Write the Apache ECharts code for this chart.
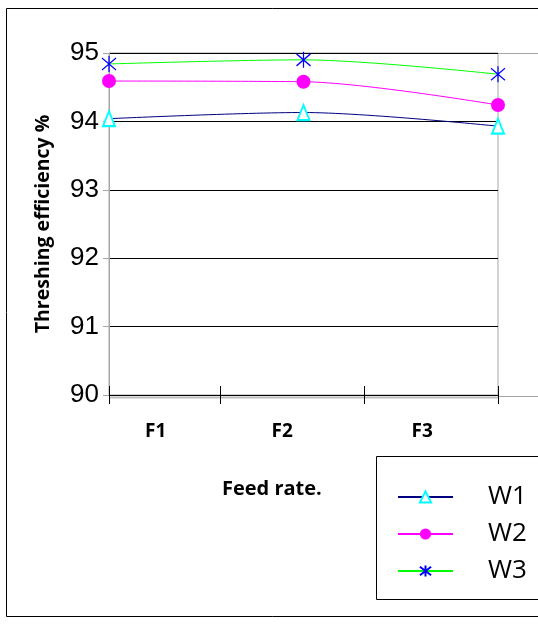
<!DOCTYPE html>
<html>
<head>
<meta charset="utf-8">
<script src="https://cdn.jsdelivr.net/npm/echarts@6/dist/echarts.min.js"></script>
<style>
  html, body { margin: 0; padding: 0; background: #fff; }
  #chart { width: 538px; height: 625px; }
</style>
</head>
<body>
<div id="chart"></div>
<script>
  // feed rate positions (F1..F3 sit on the plot edges and the middle)
  var feedPos = [0, 1, 2];
  var feedLabels = ['F1', 'F2', 'F3'];
  // where Excel put the category ticks / labels along the axis
  var tickPos = [0, 0.57, 1.31, 2];
  var labelPos = [0.24, 0.89, 1.61];

  var w1 = [94.04, 94.13, 93.93];
  var w2 = [94.59, 94.58, 94.24];
  var w3 = [94.84, 94.90, 94.69];

  var yTicks = [90, 91, 92, 93, 94, 95];

  var starX = 'path://M0,2L12,14M12,2L0,14M6,0L6,16';

  function pairs(vals) {
    return vals.map(function (v, i) { return [feedPos[i], v]; });
  }

  var chart = echarts.init(document.getElementById('chart'));

  var option = {
    animation: false,
    backgroundColor: '#fff',
    grid: {
      left: 109,
      right: 40,
      top: 53,
      bottom: 230,
      show: true,
      borderColor: '#a6a6a6',
      borderWidth: 1
    },
    graphic: [
      // outer chart frame
      { type: 'rect', shape: { x: 6.5, y: 8.5, width: 600, height: 608 },
        style: { fill: 'none', stroke: '#000', lineWidth: 1 }, z: -1 },
      // plot border running on to the right edge
      { type: 'line', shape: { x1: 498, y1: 53.5, x2: 538, y2: 53.5 },
        style: { stroke: '#a6a6a6', lineWidth: 1 } },
      { type: 'line', shape: { x1: 498, y1: 396.5, x2: 538, y2: 396.5 },
        style: { stroke: '#a6a6a6', lineWidth: 1 } },
      { type: 'line', shape: { x1: 109, y1: 397.5, x2: 498, y2: 397.5 },
        style: { stroke: '#bfbfbf', lineWidth: 2 } },
      // legend frame
      { type: 'rect', shape: { x: 376.5, y: 456.5, width: 170, height: 143 },
        style: { fill: '#fff', stroke: '#000', lineWidth: 1 }, z: 1 },
      { type: 'text', left: 222, top: 479, z: 2,
        style: { text: 'Feed rate.', font: 'bold 20px "Open Sans"', fill: '#000' } }
    ],
    legend: {
      orient: 'vertical',
      left: 392,
      top: 479,
      z: 5,
      itemWidth: 55,
      itemHeight: 14,
      itemGap: 11,
      data: ['W1', 'W2', 'W3'],
      formatter: function (name) { return '{t|' + name + '}'; },
      textStyle: {
        rich: {
          t: { fontFamily: 'Open Sans', fontSize: 26, color: '#000', padding: [0, 0, 0, 30] }
        }
      }
    },
    xAxis: [
      {
        type: 'value', min: 0, max: 2,
        axisLine: { show: false }, axisTick: { show: false },
        axisLabel: { show: false }, splitLine: { show: false }
      },
      {
        type: 'value', min: 0, max: 2, position: 'bottom',
        axisLine: { show: true, onZero: false, lineStyle: { color: '#000', width: 1 } },
        axisTick: { show: true, length: 9, customValues: tickPos, lineStyle: { color: '#000' } },
        axisLabel: {
          show: true, margin: 27,
          customValues: labelPos,
          fontFamily: 'Open Sans', fontWeight: 'bold', fontSize: 19, color: '#000',
          formatter: function (v) {
            var best = 0;
            labelPos.forEach(function (p, i) {
              if (Math.abs(p - v) < Math.abs(labelPos[best] - v)) best = i;
            });
            return feedLabels[best];
          }
        },
        splitLine: { show: false }
      },
      {
        type: 'value', min: 0, max: 2, position: 'bottom',
        axisLine: { show: false },
        axisTick: { show: true, inside: true, length: 9, customValues: tickPos, lineStyle: { color: '#000' } },
        axisLabel: { show: false }, splitLine: { show: false }
      }
    ],
    yAxis: {
      type: 'value',
      min: yTicks[0],
      max: yTicks[yTicks.length - 1],
      interval: 1,
      name: 'Threshing efficiency %',
      nameLocation: 'middle',
      nameGap: 56,
      nameRotate: 90,
      nameTextStyle: { fontFamily: 'Open Sans', fontWeight: 'bold', fontSize: 19.5, color: '#000' },
      axisLine: { show: true, lineStyle: { color: '#a6a6a6' } },
      axisTick: { show: true, length: 6, lineStyle: { color: '#a6a6a6' } },
      axisLabel: { margin: 10, fontFamily: 'Liberation Sans', fontSize: 26, color: '#000' },
      splitLine: { show: true, lineStyle: { color: '#000', width: 1 } }
    },
    series: [
      {
        name: 'W1', type: 'line', smooth: 0.3, data: pairs(w1),
        symbol: 'emptyTriangle', symbolSize: [12, 15],
        itemStyle: { color: '#00ffff', borderWidth: 1.3 },
        lineStyle: { color: '#000080', width: 1 }
      },
      {
        name: 'W2', type: 'line', smooth: 0.3, data: pairs(w2),
        symbol: 'circle', symbolSize: 14,
        itemStyle: { color: '#ff00ff' },
        lineStyle: { color: '#ff00ff', width: 1 }
      },
      {
        name: 'W3', type: 'line', smooth: 0.3, data: pairs(w3),
        symbol: starX, symbolSize: [14, 16],
        itemStyle: { color: 'none', borderColor: '#0000ff', borderWidth: 1.3 },
        lineStyle: { color: '#00ff00', width: 1 }
      }
    ]
  };

  chart.setOption(option);
</script>
</body>
</html>
